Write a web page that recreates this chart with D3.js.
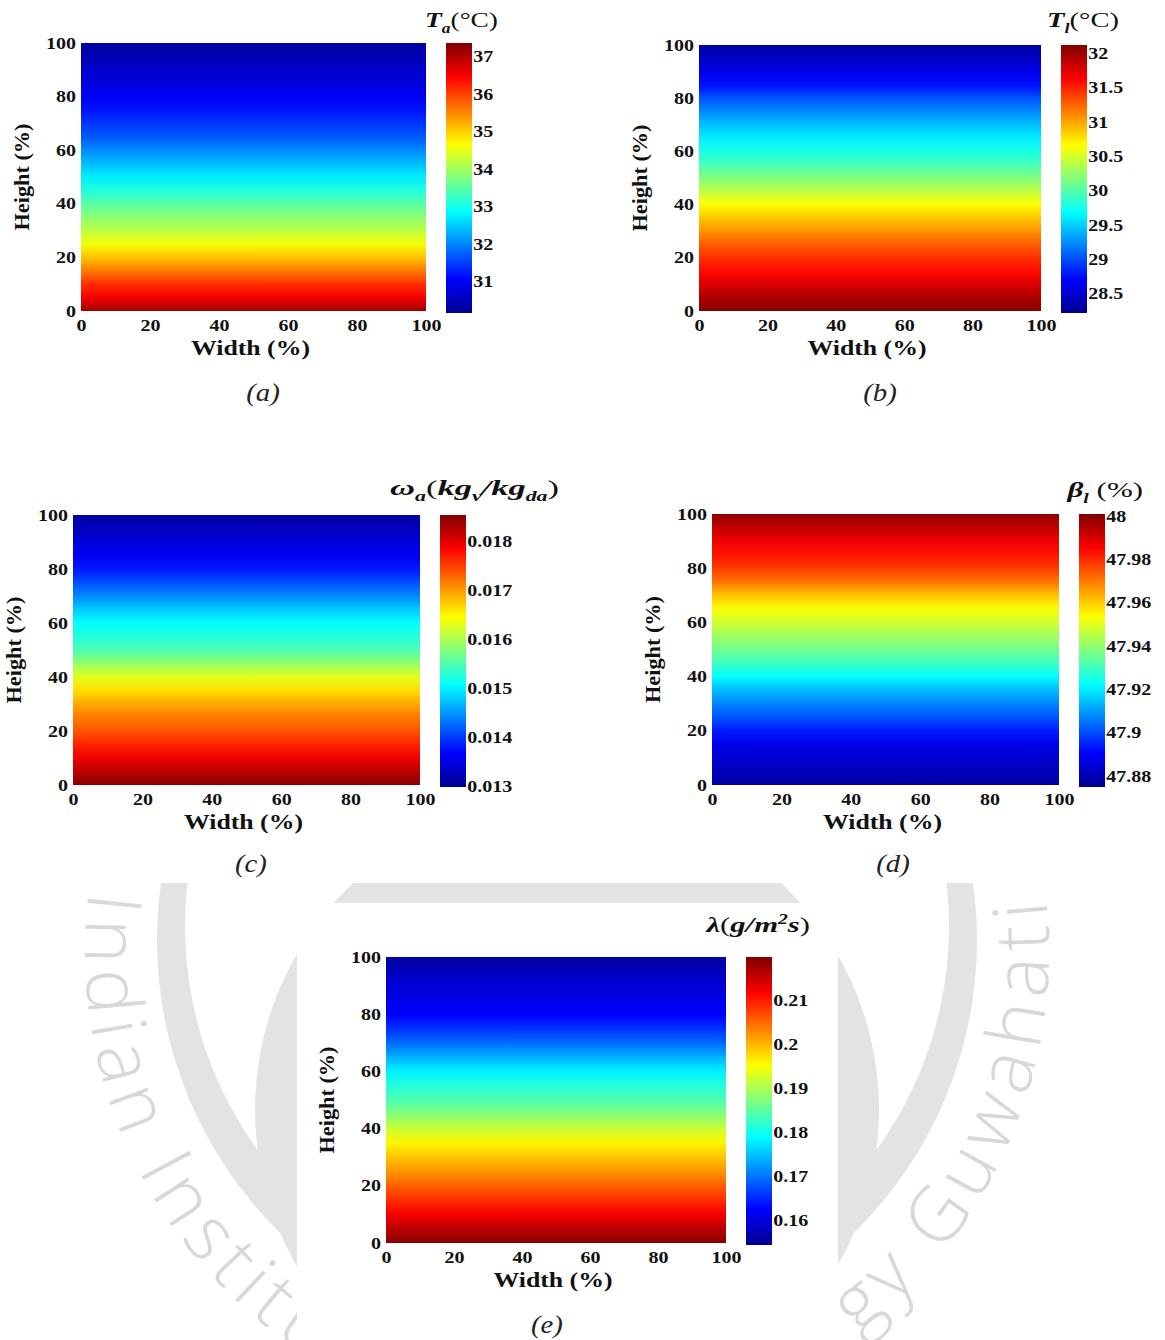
<!DOCTYPE html>
<html>
<head>
<meta charset="utf-8">
<script src="https://cdn.jsdelivr.net/npm/d3@7"></script>
<style>
  body { margin: 0; background: #fff; }
  svg { display: block; }
</style>
</head>
<body>
<div id="fig"></div>
<script>
// heights (%) where each profile was read, bottom (0) to top (100)
const heights = [0, 5, 10, 15, 20, 25, 30, 35, 40, 45, 50, 55, 60, 65, 70, 75, 80, 85, 90, 95, 100];
const widthTicks = [0, 20, 40, 60, 80, 100];
const heightTicks = [0, 20, 40, 60, 80, 100];

// (a) air temperature
const airTemp = [37.15, 36.55, 36.15, 35.6, 35.1, 34.6, 34.2, 33.85, 33.5, 33.1, 32.75, 32.4, 32.05, 31.7, 31.45, 31.2, 31.0, 30.8, 30.65, 30.45, 30.3];
const airTempRange = [30.17, 37.37];
const airTempTicks = [31, 32, 33, 34, 35, 36, 37];
const airTempLabels = ["31", "32", "33", "34", "35", "36", "37"];

// (b) liquid desiccant temperature
const liqTemp = [32.1, 31.95, 31.78, 31.6, 31.45, 31.28, 31.07, 30.87, 30.66, 30.41, 30.18, 29.95, 29.78, 29.62, 29.44, 29.24, 29.02, 28.76, 28.6, 28.45, 28.3];
const liqTempRange = [28.22, 32.12];
const liqTempTicks = [28.5, 29, 29.5, 30, 30.5, 31, 31.5, 32];
const liqTempLabels = ["28.5", "29", "29.5", "30", "30.5", "31", "31.5", "32"];

// (c) air humidity ratio
const airHum = [0.01848, 0.01820, 0.01793, 0.01765, 0.01738, 0.01718, 0.01692, 0.01663, 0.01630, 0.01588, 0.01548, 0.01525, 0.01508, 0.01478, 0.01442, 0.01410, 0.01380, 0.01360, 0.01345, 0.01325, 0.01309];
const airHumRange = [0.01298, 0.01853];
const airHumTicks = [0.013, 0.014, 0.015, 0.016, 0.017, 0.018];
const airHumLabels = ["0.013", "0.014", "0.015", "0.016", "0.017", "0.018"];

// (d) desiccant concentration
const liqConc = [47.878, 47.881, 47.884, 47.888, 47.894, 47.901, 47.907, 47.914, 47.922, 47.930, 47.936, 47.942, 47.948, 47.953, 47.961, 47.971, 47.978, 47.983, 47.987, 47.993, 47.999];
const liqConcRange = [47.875, 48.001];
const liqConcTicks = [47.88, 47.9, 47.92, 47.94, 47.96, 47.98, 48];
const liqConcLabels = ["47.88", "47.9", "47.92", "47.94", "47.96", "47.98", "48"];

// (e) mass transfer rate
const evapRate = [0.2192, 0.2160, 0.2122, 0.2088, 0.2055, 0.2021, 0.1990, 0.1958, 0.1918, 0.1875, 0.1838, 0.1812, 0.1780, 0.1738, 0.1694, 0.1655, 0.1625, 0.1607, 0.1595, 0.1575, 0.1556];
const evapRange = [0.1543, 0.2198];
const evapTicks = [0.16, 0.17, 0.18, 0.19, 0.2, 0.21];
const evapLabels = ["0.16", "0.17", "0.18", "0.19", "0.2", "0.21"];

// jet colormap
const jetStops = [0, 0.125, 0.375, 0.625, 0.875, 1];
const jetColors = ["#000090", "#0000ff", "#00ffff", "#ffff00", "#ff0000", "#800000"];

const serif = "'Liberation Serif', 'Times New Roman', serif";
const sans = "'Open Sans', 'DejaVu Sans', sans-serif";

// title pieces: bi = bold italic, sub/sup = small bold italic, plain = regular
const panels = [
  { key: "a", values: airTemp, range: airTempRange, ticks: airTempTicks, labels: airTempLabels,
    left: 81, top: 43, w: 345, h: 268, caption: "(a)", capX: 263, capY: 401,
    titleX: 498, titleY: 27, titleW: 73,
    title: [["T", "bi"], ["a", "sub"], ["(°C)", "plain"]] },
  { key: "b", values: liqTemp, range: liqTempRange, ticks: liqTempTicks, labels: liqTempLabels,
    left: 699, top: 45, w: 342, h: 266, caption: "(b)", capX: 880, capY: 401,
    titleX: 1119, titleY: 27, titleW: 72,
    title: [["T", "bi"], ["l", "sub"], ["(°C)", "plain"]] },
  { key: "c", values: airHum, range: airHumRange, ticks: airHumTicks, labels: airHumLabels,
    left: 73, top: 515, w: 347, h: 270, caption: "(c)", capX: 251, capY: 872,
    titleX: 559, titleY: 495, titleW: 169,
    title: [["ω", "bi"], ["a", "sub"], ["(", "plain"], ["kg", "bi"], ["v", "sub"], ["/kg", "bi"], ["da", "sub"], [")", "plain"]] },
  { key: "d", values: liqConc, range: liqConcRange, ticks: liqConcTicks, labels: liqConcLabels,
    left: 712, top: 514, w: 347, h: 271, caption: "(d)", capX: 893, capY: 872,
    titleX: 1143, titleY: 497, titleW: 77,
    title: [["β", "bi"], ["l", "sub"], [" (%)", "plain"]] },
  { key: "e", values: evapRate, range: evapRange, ticks: evapTicks, labels: evapLabels,
    left: 386, top: 957, w: 340, h: 286, caption: "(e)", capX: 547, capY: 1333,
    titleX: 810, titleY: 932, titleW: 105,
    title: [["λ", "bi"], ["(", "plain"], ["g/m", "bi"], ["2", "sup"], ["s", "bi"], [")", "plain"]] }
];

const svg = d3.select("#fig").append("svg")
  .attr("width", 1165)
  .attr("height", 1340);
const defs = svg.append("defs");

// faint watermark behind the lower panel
const circ = (cx, cy, r) => `M${cx - r},${cy}a${r},${r} 0 1,0 ${2 * r},0a${r},${r} 0 1,0 ${-2 * r},0Z`;
const wm = svg.append("g");
wm.append("path")
  .attr("d", circ(567, 940, 410) + circ(567, 926, 382))
  .attr("fill-rule", "evenodd")
  .attr("fill", "#e3e3e3");
wm.append("circle").attr("cx", 567).attr("cy", 1110).attr("r", 312).attr("fill", "#e3e3e3");

const rText = 482, deg = Math.PI / 180;
const arcPt = a => [567 + rText * Math.cos(a * deg), 950 + rText * Math.sin(a * deg)];
const wmTexts = [
  { id: "wm-left", from: 187, to: 110, len: 547, text: "Indian Institu" },
  { id: "wm-right", from: 53, to: -14, len: 496, text: "gy Guwahati" }
];
wmTexts.forEach(d => {
  const [x0, y0] = arcPt(d.from), [x1, y1] = arcPt(d.to);
  defs.append("path").attr("id", d.id).attr("d", `M${x0},${y0} A${rText},${rText} 0 0,0 ${x1},${y1}`);
  wm.append("text")
    .attr("font-family", sans)
    .attr("font-weight", 300)
    .attr("font-size", 76)
    .attr("fill", "#d8d8d8")
    .append("textPath")
    .attr("href", "#" + d.id)
    .attr("textLength", d.len)
    .attr("lengthAdjust", "spacing")
    .text(d.text);
});

svg.append("rect").attr("x", 0).attr("y", 0).attr("width", 1165).attr("height", 883).attr("fill", "#fff");
svg.append("rect").attr("x", 297).attr("y", 903).attr("width", 541).attr("height", 437).attr("fill", "#fff");

function styleTicks(sel) {
  sel.select(".domain").remove();
  sel.selectAll("text")
    .attr("font-family", serif)
    .attr("font-weight", "bold")
    .attr("font-size", 16)
    .attr("fill", "#111")
    .attr("transform", "scale(1.25,1)");
}

panels.forEach(p => {
  const g = svg.append("g");
  const x = d3.scaleLinear().domain([0, 100]).range([p.left, p.left + p.w]);
  const y = d3.scaleLinear().domain([0, 100]).range([p.top + p.h, p.top]);
  const [lo, hi] = p.range;
  const colour = d3.scaleLinear()
    .domain(jetStops.map(s => lo + s * (hi - lo)))
    .range(jetColors)
    .clamp(true);

  // field
  const grad = defs.append("linearGradient")
    .attr("id", "heat-" + p.key)
    .attr("gradientUnits", "userSpaceOnUse")
    .attr("x1", 0).attr("x2", 0)
    .attr("y1", y(0)).attr("y2", y(100));
  grad.selectAll("stop")
    .data(heights)
    .join("stop")
    .attr("offset", h => (y(h) - y(0)) / (y(100) - y(0)))
    .attr("stop-color", (h, i) => colour(p.values[i]));

  g.append("rect")
    .attr("x", x(0))
    .attr("y", y(100))
    .attr("width", x(100) - x(0))
    .attr("height", y(0) - y(100))
    .attr("fill", `url(#heat-${p.key})`);

  g.append("g")
    .attr("transform", `translate(0,${y(0)})`)
    .call(d3.axisBottom(x).tickValues(widthTicks).tickSize(0).tickPadding(9))
    .call(styleTicks);
  g.append("g")
    .attr("transform", `translate(${x(0)},0)`)
    .call(d3.axisLeft(y).tickValues(heightTicks).tickSize(0).tickPadding(4))
    .call(styleTicks);

  g.append("text")
    .attr("x", x(50) - 3)
    .attr("y", y(0) + 44)
    .attr("text-anchor", "middle")
    .attr("font-family", serif)
    .attr("font-weight", "bold")
    .attr("font-size", 21)
    .attr("textLength", 119)
    .attr("lengthAdjust", "spacingAndGlyphs")
    .attr("fill", "#111")
    .text("Width (%)");

  g.append("text")
    .attr("transform", `translate(${x(0) - 52},${y(50)}) rotate(-90)`)
    .attr("text-anchor", "middle")
    .attr("font-family", serif)
    .attr("font-weight", "bold")
    .attr("font-size", 21)
    .attr("textLength", 107)
    .attr("lengthAdjust", "spacingAndGlyphs")
    .attr("fill", "#111")
    .text("Height (%)");

  // colour bar
  const barX = x(100) + 20, barW = 26;
  const barTop = y(100), barBottom = y(0) + 2;
  const cb = d3.scaleLinear().domain(p.range).range([barBottom, barTop]);
  const cbGrad = defs.append("linearGradient")
    .attr("id", "bar-" + p.key)
    .attr("gradientUnits", "userSpaceOnUse")
    .attr("x1", 0).attr("x2", 0)
    .attr("y1", barBottom).attr("y2", barTop);
  cbGrad.selectAll("stop")
    .data(jetStops)
    .join("stop")
    .attr("offset", d => d)
    .attr("stop-color", (d, i) => jetColors[i]);
  g.append("rect")
    .attr("x", barX)
    .attr("y", barTop)
    .attr("width", barW)
    .attr("height", barBottom - barTop)
    .attr("fill", `url(#bar-${p.key})`);
  g.append("g")
    .attr("transform", `translate(${barX + barW},0)`)
    .call(d3.axisRight(cb).tickValues(p.ticks).tickFormat((d, i) => p.labels[i]).tickSize(0).tickPadding(1))
    .call(styleTicks);

  // title, stretched to the width it has in the figure
  const t = g.append("text")
    .attr("text-anchor", "end")
    .attr("font-size", 22)
    .attr("fill", "#111");
  let shift = 0;
  p.title.forEach(([s, kind]) => {
    const ts = t.append("tspan").text(s);
    let target = 0;
    if (kind === "sub") target = 6;
    if (kind === "sup") target = -8;
    ts.attr("dy", target - shift);
    shift = target;
    if (kind === "plain") {
      ts.attr("font-family", serif);
    } else {
      ts.attr("font-family", serif).attr("font-style", "italic").attr("font-weight", "bold");
      if (kind === "sub" || kind === "sup") ts.attr("font-size", 14);
    }
  });
  const tw = t.node().getBBox().width;
  t.attr("transform", `translate(${p.titleX},${p.titleY}) scale(${p.titleW / tw},1)`);

  g.append("text")
    .attr("transform", `translate(${p.capX},${p.capY}) scale(1.15,1)`)
    .attr("text-anchor", "middle")
    .attr("font-family", serif)
    .attr("font-style", "italic")
    .attr("font-size", 25)
    .attr("fill", "#222")
    .text(p.caption);
});
</script>
</body>
</html>
